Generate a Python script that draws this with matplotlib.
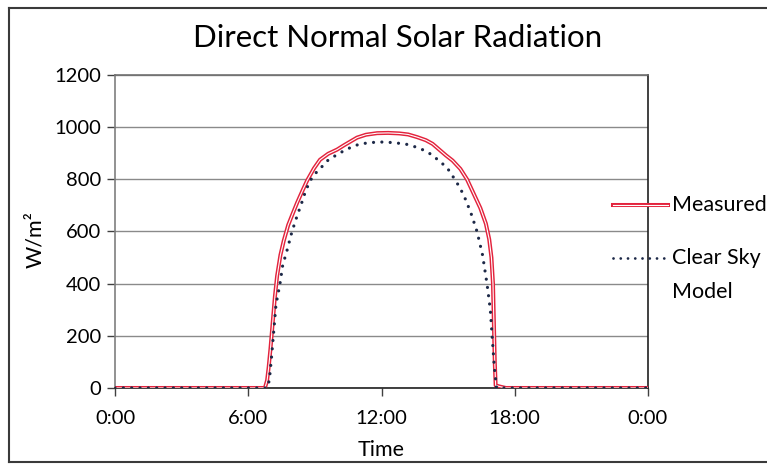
import matplotlib
matplotlib.use("Agg")
import matplotlib.pyplot as plt
from matplotlib.lines import Line2D

plt.rcParams['font.family'] = ['Lato', 'DejaVu Sans']

# Data (hours of day, W/m^2)
measured_t = [0, 6.75, 6.85, 6.92, 7.0, 7.1, 7.2, 7.3, 7.45, 7.6, 7.8, 8.0, 8.2,
              8.45, 8.65, 8.96, 9.23, 9.6, 10.0, 10.3, 10.6, 10.9, 11.3, 11.8,
              12.3, 12.8, 13.2, 13.6, 14.0, 14.3, 14.6, 14.9, 15.2, 15.55, 15.85,
              16.15, 16.45, 16.7, 16.85, 16.95, 17.02, 17.06, 17.1, 17.14, 17.3,
              17.6, 24]
measured_v = [0, 0, 30, 80, 150, 250, 350, 430, 510, 565, 625, 668, 710,
              758, 795, 842, 875, 898, 914, 930, 945, 960, 971, 977,
              978, 976, 972, 962, 950, 936, 914, 892, 872, 840, 800,
              745, 690, 630, 570, 500, 400, 250, 100, 10, 6,
              0, 0]

clear_t = [0, 6.85, 6.95, 7.05, 7.15, 7.25, 7.43, 7.55, 7.75, 7.97, 8.2, 8.4,
           8.6, 8.83, 9.05, 9.3, 9.6, 10.1, 10.5, 11.0, 11.5, 12.0, 12.5, 13.1,
           13.5, 13.9, 14.25, 14.55, 14.95, 15.3, 15.55, 15.8, 16.05, 16.3,
           16.55, 16.75, 16.9, 16.98, 17.08, 17.18, 24]
clear_v = [0, 0, 30, 120, 220, 320, 400, 470, 529, 600, 660, 708,
           760, 800, 825, 847, 874, 900, 918, 935, 941, 943, 941, 935,
           925, 912, 895, 874, 845, 800, 765, 720, 665, 600,
           510, 400, 300, 200, 80, 0, 0]

xticks = [0, 6, 12, 18, 24]
xticklabels = ['0:00', '6:00', '12:00', '18:00', '0:00']
yticks = [0, 200, 400, 600, 800, 1000, 1200]

fig = plt.figure(figsize=(7.67, 4.65), dpi=100)
ax = fig.add_axes([115/767, 1-388/465, (648-115)/767, (388-75)/465])

red = '#e3233d'
navy = '#1c2847'

ax.plot(measured_t, measured_v, color=red, lw=2.9, solid_joinstyle='round', zorder=3)
ax.plot(measured_t, measured_v, color='white', lw=0.8, solid_joinstyle='round', zorder=4)
ax.plot(clear_t, clear_v, color=navy, lw=2.3, linestyle=(0, (0.01, 2.6)),
        dash_capstyle='round', zorder=5)

ax.set_xlim(0, 24)
ax.set_ylim(0, 1200)
ax.set_xticks(xticks)
ax.set_xticklabels(xticklabels)
ax.set_yticks(yticks)
ax.tick_params(axis='both', labelsize=14.5, length=6, width=1, color='#404040',
               labelcolor='black')
ax.tick_params(axis='x', pad=10)
ax.tick_params(axis='y', pad=4)
ax.grid(axis='y', color='#8a8a8a', lw=1)
ax.set_axisbelow(True)
for side, col in [('left', '#7f7f7f'), ('top', '#6f6f6f'), ('right', '#202020'), ('bottom', '#202020')]:
    ax.spines[side].set_color(col)
    ax.spines[side].set_linewidth(1.2)

fig.text(381/767, 1-450/465, 'Time', fontsize=15.5, ha='center', va='center')
fig.text(35/767, 1-240/465, 'W/m²', rotation=90, fontsize=15.5, ha='center', va='center')
fig.text(398/767, 1-38/465, 'Direct Normal Solar Radiation', fontsize=22.5,
         ha='center', va='center')

# Legend (manual, outside right)
y1 = 1-205/465
fig.add_artist(Line2D([613/767, 668/767], [y1, y1], color=red, lw=2.9,
                      transform=fig.transFigure))
fig.add_artist(Line2D([613/767, 668/767], [y1, y1], color='white', lw=0.8,
                      transform=fig.transFigure))
fig.text(672/767, y1, 'Measured', fontsize=15.5, ha='left', va='center')
y2 = 1-258/465
fig.add_artist(Line2D([613/767, 664/767], [y2, y2], color=navy, lw=2.0,
                      linestyle=(0, (0.01, 2.6)), dash_capstyle='round',
                      transform=fig.transFigure))
fig.text(672/767, y2, 'Clear Sky', fontsize=15.5, ha='left', va='center')
fig.text(672/767, 1-292/465, 'Model', fontsize=15.5, ha='left', va='center')

# Outer frame (left, top, bottom; right edge cropped in reference)
fx0, fy0, fy1 = 9/767, 1-462/465, 1-8/465
for xs, ys in [([fx0, fx0], [fy0, fy1]), ([fx0, 1.0], [fy1, fy1]), ([fx0, 1.0], [fy0, fy0])]:
    fig.add_artist(Line2D(xs, ys, color='#3a3a3a', lw=1.5, transform=fig.transFigure))

fig.savefig('out.png', dpi=100)
